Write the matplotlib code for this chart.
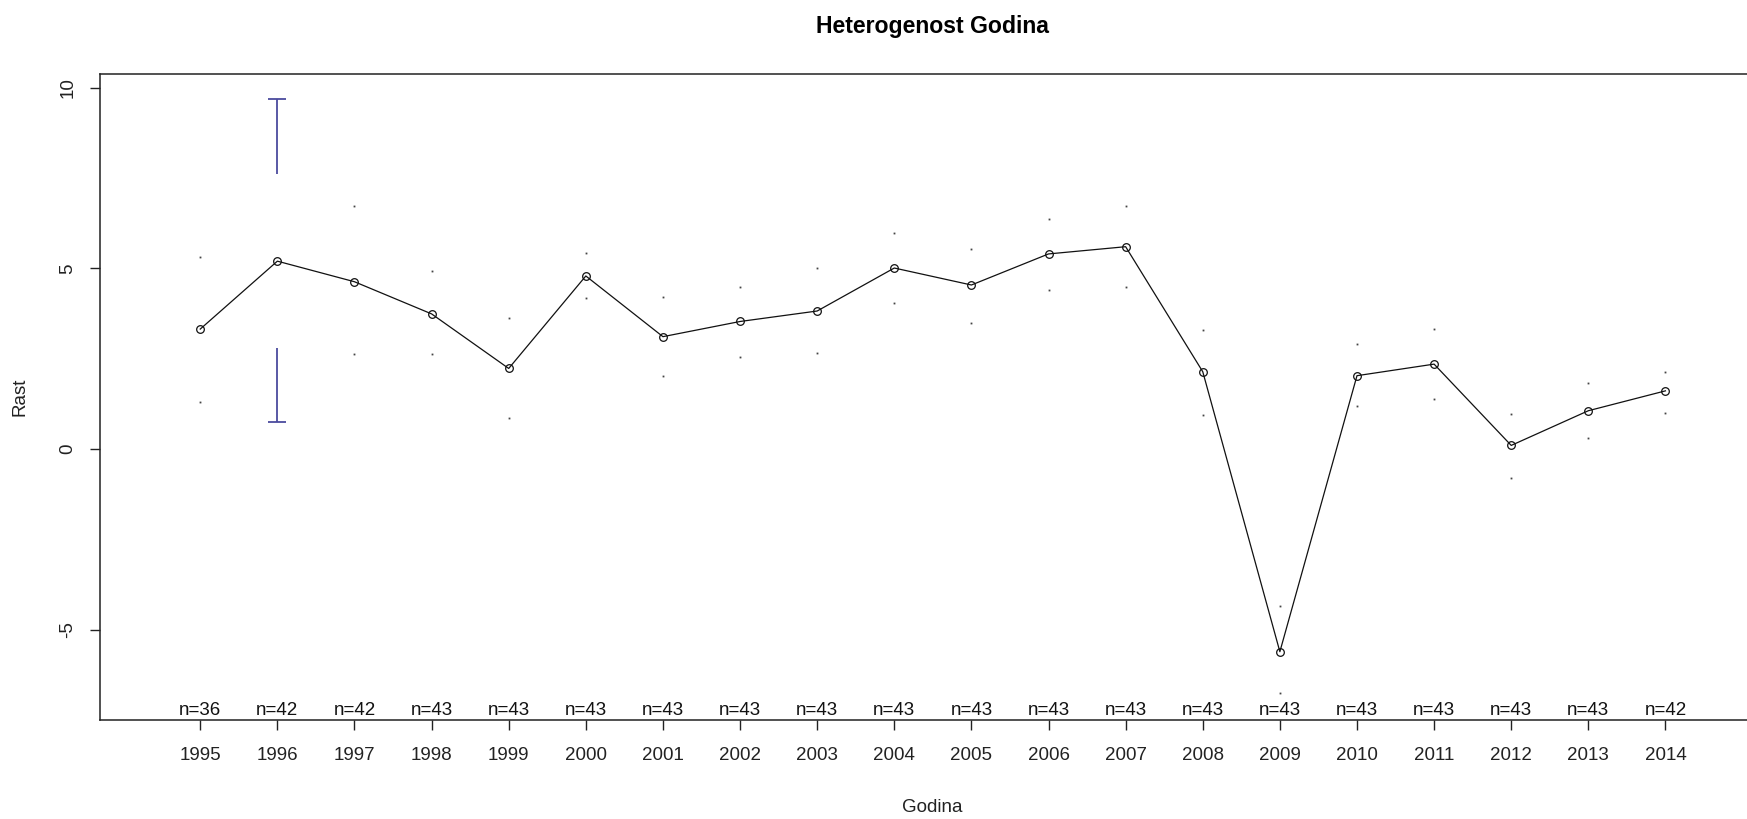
import matplotlib
matplotlib.use("Agg")
import matplotlib.pyplot as plt
import matplotlib.transforms as mtransforms
import numpy as np

plt.rcParams['font.family'] = ['Liberation Sans', 'DejaVu Sans']

# ---- data ----
years = ["1995", "1996", "1997", "1998", "1999", "2000", "2001", "2002", "2003", "2004",
         "2005", "2006", "2007", "2008", "2009", "2010", "2011", "2012", "2013", "2014"]
n_obs = [36, 42, 42, 43, 43, 43, 43, 43, 43, 43, 43, 43, 43, 43, 43, 43, 43, 43, 43, 42]
means = [3.32, 5.20, 4.63, 3.74, 2.23, 4.79, 3.11, 3.53, 3.82, 5.01,
         4.54, 5.40, 5.60, 2.14, -5.61, 2.03, 2.35, 0.10, 1.06, 1.61]
ci_upper = [5.32, 9.69, 6.73, 4.94, 3.64, 5.43, 4.22, 4.49, 5.00, 5.97,
            5.55, 6.37, 6.73, 3.29, -4.35, 2.90, 3.31, 0.96, 1.82, 2.14]
ci_lower = [1.31, 0.75, 2.63, 2.63, 0.85, 4.19, 2.03, 2.56, 2.65, 4.03,
            3.50, 4.40, 4.49, 0.94, -6.76, 1.20, 1.38, -0.79, 0.31, 1.00]
bar_year = "1996"     # the one CI drawn as a full bar
bar_gap = 2.40        # gap around the mean in that bar
y_ticks = [-5, 0, 5, 10]

title = "Heterogenost Godina"
xlabel = "Godina"
ylabel = "Rast"

W, H = 1747, 819
fig = plt.figure(figsize=(W / 100, H / 100), dpi=100)
ax = fig.add_axes([100 / W, (H - 720) / H, 1665.7 / W, 646 / H])

x = np.arange(1, len(years) + 1)
ax.set_xlim(-0.3, 21.3)
ax.set_ylim(-7.50, 10.38)

# CI end dots (except the full bar)
bi = years.index(bar_year)
dot_x = [xi for i, xi in enumerate(x) if i != bi]
up = [v for i, v in enumerate(ci_upper) if i != bi]
lo = [v for i, v in enumerate(ci_lower) if i != bi]
ax.plot(dot_x, up, ls='none', marker='s', ms=1.3, mew=0, color='#444444')
ax.plot(dot_x, lo, ls='none', marker='s', ms=1.3, mew=0, color='#444444')

# full CI bar for 1996
bar_col = '#4b4b9e'
xb = x[bi]
ax.vlines(xb, means[bi] + bar_gap, ci_upper[bi], color=bar_col, lw=1.3)
ax.vlines(xb, ci_lower[bi], means[bi] - bar_gap, color=bar_col, lw=1.3)
ax.plot([xb], [ci_upper[bi]], marker='_', ms=13, mew=1.3, color=bar_col)
ax.plot([xb], [ci_lower[bi]], marker='_', ms=13, mew=1.3, color=bar_col)

# means line
ax.plot(x, means, color='#111111', lw=0.9, marker='o', ms=5.5, mfc='none', mec='#111111', mew=0.9)

# n labels
trans = mtransforms.blended_transform_factory(ax.transData, ax.transAxes)
for xi, n in zip(x, n_obs):
    ax.text(xi, 0.008, f"n={n}", transform=trans, ha='center', va='baseline', fontsize=13.5, color='#111111')

ax.set_xticks(x)
ax.set_xticklabels(years, fontsize=13.5, color='#222222')
ax.set_yticks(y_ticks)
ax.set_yticklabels([str(t) for t in y_ticks], fontsize=13.5, color='#222222')
for lbl in ax.get_yticklabels():
    lbl.set_rotation(90)
    lbl.set_va('center')
ax.tick_params(axis='x', length=7.5, width=1.0, pad=12, colors='#222222')
ax.tick_params(axis='y', length=7.5, width=1.0, pad=9.5, colors='#222222')
for sp in ax.spines.values():
    sp.set_linewidth(1.1)
    sp.set_color('#222222')

fig.text(932.5 / W, 1 - 26 / H, title, ha='center', va='center', fontsize=16.6, fontweight='bold')
fig.text(932.5 / W, 1 - 807.7 / H, xlabel, ha='center', va='center', fontsize=13.5, color='#222222')
fig.text(20 / W, 1 - 397 / H, ylabel, ha='center', va='center', rotation=90, fontsize=13.5, color='#222222')

fig.savefig("out.png", dpi=100)
